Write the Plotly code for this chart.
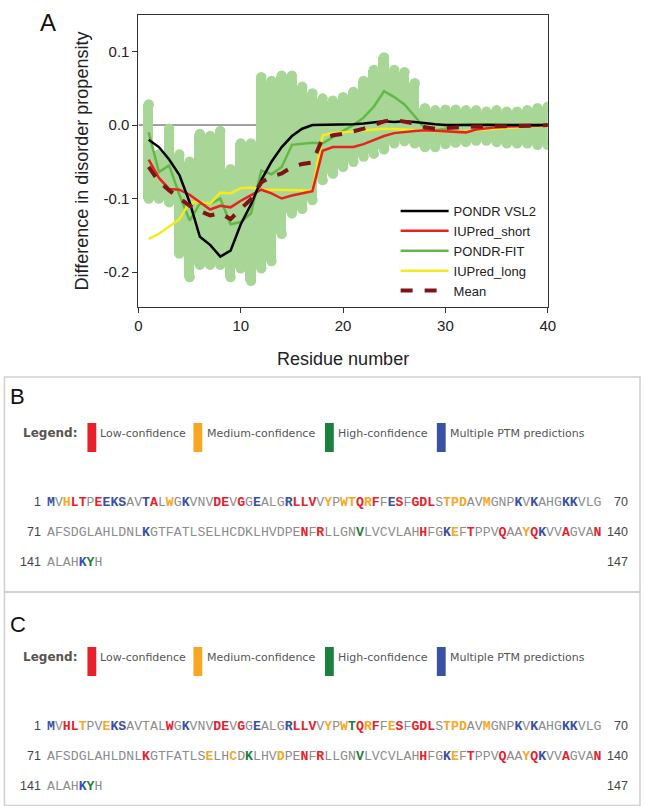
import plotly.graph_objects as go

W, H = 649, 806


def px(x):
    return x / W


def py(y):
    return 1 - y / H


# ---------------- Panel A data ----------------
RESIDUE = list(range(1, 41))
PONDR_VSL2 = [-0.020, -0.030, -0.047, -0.068, -0.105, -0.152, -0.163, -0.179, -0.171, -0.135,
              -0.108, -0.075, -0.050, -0.030, -0.015, -0.005, 0.000, 0.000, 0.000, 0.001,
              0.001, 0.002, 0.003, 0.005, 0.004, 0.005, 0.004, 0.002, 0.001, 0.000,
              0.000, 0.000, 0.000, 0.000, 0.000, 0.000, 0.000, 0.000, 0.000, 0.000]
IUPRED_SHORT = [-0.047, -0.072, -0.087, -0.088, -0.095, -0.105, -0.115, -0.110, -0.112, -0.103,
                -0.095, -0.088, -0.093, -0.100, -0.096, -0.093, -0.090, -0.035, -0.030, -0.030,
                -0.030, -0.026, -0.020, -0.015, -0.011, -0.009, -0.008, -0.007, -0.008, -0.008,
                -0.009, -0.010, -0.006, -0.004, -0.003, -0.002, -0.002, -0.001, -0.001, 0.000]
PONDR_FIT = [-0.010, -0.064, -0.055, -0.095, -0.130, -0.107, -0.107, -0.100, -0.135, -0.132,
             -0.120, -0.062, -0.067, -0.057, -0.027, -0.025, -0.024, -0.025, -0.016, -0.008,
             0.000, 0.010, 0.025, 0.046, 0.038, 0.028, 0.012, -0.005, -0.007, -0.005,
             0.000, 0.001, 0.001, 0.001, 0.000, 0.000, 0.000, 0.000, 0.000, 0.000]
IUPRED_LONG = [-0.155, -0.148, -0.138, -0.128, -0.105, -0.105, -0.107, -0.092, -0.093, -0.086,
               -0.085, -0.088, -0.088, -0.088, -0.088, -0.088, -0.089, -0.014, -0.011, -0.010,
               -0.009, -0.008, -0.006, -0.005, -0.005, -0.006, -0.007, -0.008, -0.009, -0.009,
               -0.009, -0.008, -0.007, -0.006, -0.005, -0.004, -0.003, -0.002, -0.001, -0.001]
MEAN = [-0.057, -0.077, -0.089, -0.100, -0.110, -0.117, -0.123, -0.120, -0.128, -0.114,
        -0.101, -0.078, -0.070, -0.066, -0.057, -0.053, -0.051, -0.018, -0.014, -0.012,
        -0.009, -0.005, 0.000, 0.005, 0.007, 0.005, 0.002, -0.003, -0.005, -0.004,
        -0.003, -0.003, -0.002, -0.002, -0.002, -0.001, -0.001, -0.001, -0.001, 0.000]
BAND_HI = [0.028, -0.040, -0.005, -0.040, -0.050, -0.012, -0.015, -0.008, -0.060, -0.025,
           -0.025, 0.065, 0.060, 0.067, 0.067, 0.052, 0.043, 0.036, 0.033, 0.038,
           0.045, 0.060, 0.075, 0.092, 0.075, 0.072, 0.057, 0.023, 0.020, 0.021,
           0.021, 0.020, 0.020, 0.018, 0.020, 0.018, 0.018, 0.020, 0.023, 0.025]
BAND_LO = [-0.100, -0.100, -0.105, -0.175, -0.207, -0.190, -0.190, -0.190, -0.207, -0.195,
           -0.212, -0.195, -0.185, -0.148, -0.120, -0.114, -0.102, -0.075, -0.066, -0.057,
           -0.050, -0.043, -0.039, -0.033, -0.025, -0.022, -0.025, -0.030, -0.030, -0.026,
           -0.024, -0.023, -0.021, -0.021, -0.023, -0.025, -0.025, -0.025, -0.027, -0.027]

X_TICKS = [0, 10, 20, 30, 40]
Y_TICKS = [-0.2, -0.1, 0.0, 0.1]
Y_TICK_TEXT = ["-0.2", "-0.1", "0.0", "0.1"]

SERIES_NAMES = ["PONDR VSL2", "IUPred_short", "PONDR-FIT", "IUPred_long", "Mean"]

# ---------------- Panels B / C data ----------------
SEQUENCE = ("MVHLTPEEKSAVTALWGKVNVDEVGGEALGRLLVVYPWTQRFFESFGDLSTPDAVMGNPKVKAHGKKVLG"
            "AFSDGLAHLDNLKGTFATLSELHCDKLHVDPENFRLLGNVLVCVLAHHFGKEFTPPVQAAYQKVVAGVAN"
            "ALAHKYH")
SEQUENCE_C = SEQUENCE[:6] + "V" + SEQUENCE[7:]
ROW_STARTS = [1, 71, 141]
ROW_ENDS = [70, 140, 147]

B_MULTI = [1, 8, 9, 10, 13, 18, 27, 31, 44, 60, 62, 66, 67, 83, 121, 133, 145]
B_LOW = [4, 5, 7, 14, 22, 23, 25, 32, 33, 34, 40, 42, 45, 47, 48, 49, 103, 105, 118, 124,
         128, 132, 136, 140]
B_MED = [3, 16, 36, 38, 39, 41, 51, 52, 53, 56, 122, 131]
B_HIGH = [110, 146]

C_MULTI = [1, 9, 10, 18, 27, 31, 60, 62, 66, 67, 121, 133, 145]
C_LOW = [3, 4, 16, 22, 23, 25, 32, 33, 34, 40, 42, 45, 47, 48, 49, 83, 103, 105, 118, 124,
         128, 132, 136, 140]
C_MED = [5, 8, 36, 38, 41, 44, 51, 52, 53, 56, 91, 94, 100, 122, 131]
C_HIGH = [39, 96, 110, 146]

LEGEND_LABELS = ["Low-confidence", "Medium-confidence", "High-confidence",
                 "Multiple PTM predictions"]

# ---------------- styles ----------------
RED = "#E8202A"
ORANGE = "#F7A823"
GREEN = "#1B7F3D"
BLUE = "#3A50A2"
GRAY = "#8C8C8C"
BAND = "#A8D696"
LINE_COLORS = ["#000000", "#E5231F", "#63B848", "#F6EA1E", "#7E1416"]

# plot frame in pixels
L, R, T, B = 137, 554, 15, 307
UNIT_PX = (R - L) / 40.0

fig = go.Figure()

# band
fig.add_trace(go.Bar(x=RESIDUE, y=[h - l for h, l in zip(BAND_HI, BAND_LO)], base=BAND_LO,
                     width=1.0, marker=dict(color=BAND, line=dict(width=0)),
                     showlegend=False, hoverinfo="skip"))
fig.add_trace(go.Scatter(x=RESIDUE + RESIDUE, y=BAND_LO + BAND_HI, mode="markers",
                         marker=dict(color=BAND, size=UNIT_PX, line=dict(width=0)),
                         showlegend=False, hoverinfo="skip"))

series = [PONDR_VSL2, IUPRED_SHORT, PONDR_FIT, IUPRED_LONG, MEAN]
draw_order = [2, 3, 1, 0, 4]
for idx in draw_order:
    dash = "dash" if idx == 4 else "solid"
    width = 4 if idx == 4 else 2.5
    fig.add_trace(go.Scatter(x=RESIDUE, y=series[idx], mode="lines", name=SERIES_NAMES[idx],
                             line=dict(color=LINE_COLORS[idx], width=width, dash=dash),
                             legendrank=idx + 1))

fig.add_shape(type="line", xref="x", yref="y", x0=0, x1=40, y0=0, y1=0,
              line=dict(color="#444", width=1), layer="below")

axis_font = dict(family="Liberation Sans, Arial", size=15, color="#222")
fig.update_xaxes(domain=[px(L), px(R)], range=[0, 40], tickvals=X_TICKS,
                 showline=True, mirror=True, linecolor="#333", linewidth=1,
                 ticks="outside", ticklen=5, tickcolor="#333", showgrid=False, zeroline=False,
                 tickfont=axis_font,
                 title=dict(text="Residue number", font=dict(family="Liberation Sans, Arial",
                                                             size=18, color="#222"), standoff=19))
fig.update_yaxes(domain=[py(B), py(T)], range=[-0.2476, 0.1497], tickvals=Y_TICKS,
                 ticktext=Y_TICK_TEXT,
                 showline=True, mirror=True, linecolor="#333", linewidth=1,
                 ticks="outside", ticklen=5, tickcolor="#333", showgrid=False, zeroline=False,
                 tickfont=axis_font,
                 title=dict(text="Difference in disorder propensity",
                            font=dict(family="Liberation Sans, Arial", size=18, color="#222"),
                            standoff=10))

annotations = []
shapes = []

# panel frames
for (y0, y1) in [(0.5, 377), (377, 592), (592, 805.5)]:
    shapes.append(dict(type="rect", xref="paper", yref="paper", x0=px(0.5), x1=px(648),
                       y0=py(y1), y1=py(y0), line=dict(color="#CFCFCF", width=1.5)))

annotations.append(dict(text="A", x=px(35), y=py(23), xref="paper", yref="paper",
                        showarrow=False, xanchor="left", yanchor="middle",
                        font=dict(family="Liberation Sans, Arial", size=24, color="#111")))
annotations.append(dict(text="B", x=px(4), y=py(396), xref="paper", yref="paper",
                        showarrow=False, xanchor="left", yanchor="middle",
                        font=dict(family="Liberation Sans, Arial", size=22, color="#111")))
annotations.append(dict(text="C", x=px(4), y=py(624), xref="paper", yref="paper",
                        showarrow=False, xanchor="left", yanchor="middle",
                        font=dict(family="Liberation Sans, Arial", size=22, color="#111")))


def seq_text(seq, start, end, low, med, high, multi):
    out = []
    for pos in range(start, end + 1):
        aa = seq[pos - 1]
        if pos in multi:
            out.append(f'<b><span style="color:{BLUE}">{aa}</span></b>')
        elif pos in low:
            out.append(f'<b><span style="color:{RED}">{aa}</span></b>')
        elif pos in med:
            out.append(f'<b><span style="color:{ORANGE}">{aa}</span></b>')
        elif pos in high:
            out.append(f'<b><span style="color:{GREEN}">{aa}</span></b>')
        else:
            out.append(f'<span style="color:{GRAY}">{aa}</span>')
    return "".join(out)


def add_panel(seq, legend_y, row_ys, low, med, high, multi):
    lf = dict(family="DejaVu Sans", size=11, color="#555")
    annotations.append(dict(text="<b>Legend:</b>", x=px(17), y=py(legend_y), xref="paper",
                            yref="paper", showarrow=False, xanchor="left", yanchor="middle",
                            font=dict(family="DejaVu Sans", size=12, color="#555")))
    rect_x = [85, 193, 327, 441]
    text_x = [96, 205, 338, 452]
    for col, rx, tx, lab in zip([RED, ORANGE, GREEN, BLUE], rect_x, text_x, LEGEND_LABELS):
        shapes.append(dict(type="rect", xref="paper", yref="paper", x0=px(rx), x1=px(rx + 9),
                           y0=py(legend_y + 19), y1=py(legend_y - 10), fillcolor=col,
                           line=dict(width=0)))
        annotations.append(dict(text=lab, x=px(tx), y=py(legend_y), xref="paper", yref="paper",
                                showarrow=False, xanchor="left", yanchor="middle", font=lf))
    nf = dict(family="Liberation Sans, Arial", size=12.5, color="#444")
    for s, e, ry in zip(ROW_STARTS, ROW_ENDS, row_ys):
        annotations.append(dict(text=str(s), x=px(40), y=py(ry), xref="paper", yref="paper",
                                showarrow=False, xanchor="right", yanchor="middle", font=nf))
        annotations.append(dict(text=str(e), x=px(637), y=py(ry), xref="paper", yref="paper",
                                showarrow=False, xanchor="right", yanchor="middle", font=nf,
                                borderpad=0))
        annotations.append(dict(text=seq_text(seq, s, e, low, med, high, multi), x=px(43),
                                y=py(ry), xref="paper", yref="paper", showarrow=False,
                                xanchor="left", yanchor="middle", borderpad=0,
                                font=dict(family="Liberation Mono, monospace", size=13.2,
                                          color=GRAY)))


add_panel(SEQUENCE, 433, [502, 532, 562], B_LOW, B_MED, B_HIGH, B_MULTI)
add_panel(SEQUENCE_C, 657, [726, 756, 786], C_LOW, C_MED, C_HIGH, C_MULTI)

fig.update_layout(
    width=W, height=H, autosize=False,
    margin=dict(l=0, r=0, t=0, b=0),
    paper_bgcolor="white", plot_bgcolor="white",
    showlegend=True,
    legend=dict(x=px(399), y=py(196), xanchor="left", yanchor="top",
                bgcolor="rgba(0,0,0,0)", borderwidth=0, itemwidth=48,
                font=dict(family="Liberation Sans, Arial", size=13, color="#222"),
                tracegroupgap=0),
    annotations=annotations,
    shapes=shapes,
    bargap=0,
)

fig.write_html("out.html", config={"displayModeBar": False},
               post_script="document.body.style.margin='0';")
